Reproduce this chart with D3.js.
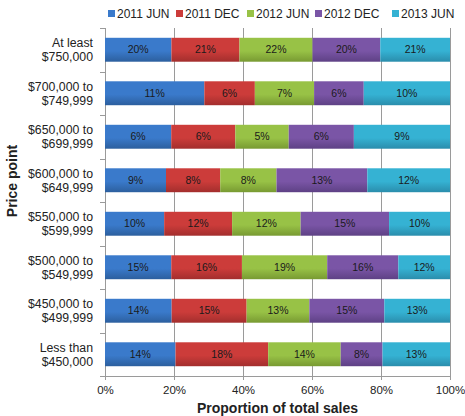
<!DOCTYPE html>
<html>
<head>
<meta charset="utf-8">
<script src="https://cdn.jsdelivr.net/npm/d3@7"></script>
<style>
	body { margin: 0; background: #fff; }
	text { font-family: "Liberation Sans", Arial, sans-serif; fill: #222; }
	.grid line { stroke: #9a9a9a; stroke-width: 1; }
	.grid .domain { display: none; }
	.axis .domain, .axis line { stroke: #9a9a9a; }
</style>
</head>
<body>
<div id="chart"></div>
<script>
let categories	= ["At least\n$750,000", "$700,000 to\n$749,999", "$650,000 to\n$699,999", "$600,000 to\n$649,999",
	"$550,000 to\n$599,999", "$500,000 to\n$549,999", "$450,000 to\n$499,999", "Less than\n$450,000"];
let seriesNames	= ["2011 JUN", "2011 DEC", "2012 JUN", "2012 DEC", "2013 JUN"];
let colors		= ["#3a7acb", "#cc3c3a", "#98c246", "#7a55a6", "#35b2d3"];
let colorsDark	= ["#2c5f9e", "#a32e2d", "#789a32", "#5e4185", "#2a8dac"];

// share of sales per price point (percent)
let jun2011		= [20, 11.4, 6.2, 9, 10.1, 15, 13.6, 14];
let dec2011		= [20.5, 5.8, 6, 8, 11.6, 16, 15.3, 18.4];
let jun2012		= [22, 6.8, 5, 8.3, 11.7, 19.3, 12.8, 14.4];
let dec2012		= [20.4, 5.7, 6.1, 13.4, 15.1, 16.1, 15.3, 8.3];
let jun2013		= [21, 9.9, 9, 12.2, 10.4, 11.7, 13.4, 13.4];
let xTicks		= [0, 0.2, 0.4, 0.6, 0.8, 1];

let data = categories.map((c, i) => ({
	cat: c,
	"2011 JUN": jun2011[i], "2011 DEC": dec2011[i], "2012 JUN": jun2012[i],
	"2012 DEC": dec2012[i], "2013 JUN": jun2013[i]
}));

let margin	= { top: 28, right: 15, bottom: 40, left: 105 };
let width	= 465 - margin.left - margin.right;
let height	= 416 - margin.top - margin.bottom;

let svg = d3.select("#chart").append("svg")
	.attr("width", 465)
	.attr("height", 416);

let defs = svg.append("defs");
seriesNames.forEach((s, i) => {
	let g = defs.append("linearGradient")
		.attr("id", "grad" + i)
		.attr("x1", 0).attr("y1", 0).attr("x2", 0).attr("y2", 1);
	g.append("stop").attr("offset", "0%").attr("stop-color", colors[i]);
	g.append("stop").attr("offset", "55%").attr("stop-color", colors[i]);
	g.append("stop").attr("offset", "100%").attr("stop-color", colorsDark[i]);
});

let chart = svg.append("g")
	.attr("transform", "translate(" + margin.left + "," + margin.top + ")");

let x = d3.scaleLinear().range([0, width]).domain([0, 1]);
let y = d3.scaleBand().range([0, height]).domain(categories).paddingInner(0.45).paddingOuter(0.225);

let stack	= d3.stack().keys(seriesNames).offset(d3.stackOffsetExpand);
let layers	= stack(data);

// vertical gridlines
chart.append("g")
	.attr("class", "grid")
	.call(d3.axisBottom(x).tickValues(xTicks).tickSize(height).tickFormat(""));

// left axis with band ticks
let yAxis = chart.append("g").attr("class", "axis");
yAxis.append("line").attr("x1", 0.5).attr("x2", 0.5).attr("y1", 0).attr("y2", height).attr("stroke", "#9a9a9a");
yAxis.selectAll(".bt")
	.data(d3.range(categories.length + 1))
	.enter().append("line")
		.attr("x1", -5).attr("x2", 0)
		.attr("y1", (i) => Math.round(i * height / categories.length) + 0.5)
		.attr("y2", (i) => Math.round(i * height / categories.length) + 0.5)
		.attr("stroke", "#9a9a9a");

// bars
let layer = chart.selectAll(".layer")
	.data(layers)
	.enter().append("g")
		.attr("class", "layer")
		.attr("fill", (d, i) => "url(#grad" + i + ")");

layer.selectAll("rect")
	.data((d) => d)
	.enter().append("rect")
		.attr("x", (d) => x(d[0]))
		.attr("y", (d) => y(d.data.cat))
		.attr("width", (d) => x(d[1]) - x(d[0]))
		.attr("height", y.bandwidth());

layer.selectAll("text")
	.data((d) => d.map((o) => Object.assign({ key: d.key }, o)))
	.enter().append("text")
		.attr("x", (d) => (x(d[0]) + x(d[1])) / 2)
		.attr("y", (d) => y(d.data.cat) + y.bandwidth() / 2)
		.attr("dy", "0.35em")
		.attr("text-anchor", "middle")
		.attr("font-size", "10.5px")
		.style("fill", "#1a1a1a")
		.text((d) => Math.round(d.data[d.key]) + "%");

// x axis
let xAxis = chart.append("g")
	.attr("class", "axis")
	.attr("transform", "translate(0," + height + ")")
	.call(d3.axisBottom(x).tickValues(xTicks).tickSize(4).tickFormat(d3.format(".0%")));
xAxis.selectAll("text").attr("font-size", "11.5px").attr("dy", "0.95em").style("fill", "#222");

// category labels
chart.selectAll(".cat")
	.data(categories)
	.enter().append("text")
		.attr("class", "cat")
		.attr("text-anchor", "end")
		.attr("font-size", "12.3px")
		.attr("x", -12)
		.attr("y", (c) => y(c) + y.bandwidth() / 2)
		.each(function (c) {
			let lines = c.split("\n");
			d3.select(this).selectAll("tspan")
				.data(lines)
				.enter().append("tspan")
					.attr("x", -12)
					.attr("dy", (l, i) => (i == 0 ? "-0.22em" : "1.15em"))
					.text((l) => l);
		});

// titles
svg.append("text")
	.attr("x", margin.left + width / 2)
	.attr("y", 412.5)
	.attr("text-anchor", "middle")
	.attr("font-size", "14px")
	.attr("font-weight", "bold")
	.text("Proportion of total sales");

svg.append("text")
	.attr("transform", "translate(17,181) rotate(-90)")
	.attr("text-anchor", "middle")
	.attr("font-size", "14px")
	.attr("font-weight", "bold")
	.text("Price point");

// legend
let legendX = [108, 176, 247, 315, 392];
let legend = svg.selectAll(".legend")
	.data(seriesNames)
	.enter().append("g")
		.attr("class", "legend")
		.attr("transform", (d, i) => "translate(" + legendX[i] + ",10)");

legend.append("rect")
	.attr("width", 7).attr("height", 7)
	.attr("fill", (d, i) => colors[i]);

legend.append("text")
	.attr("x", 9)
	.attr("y", 3.5)
	.attr("dy", "0.35em")
	.attr("font-size", "12px")
	.text((d) => d);
</script>
</body>
</html>
